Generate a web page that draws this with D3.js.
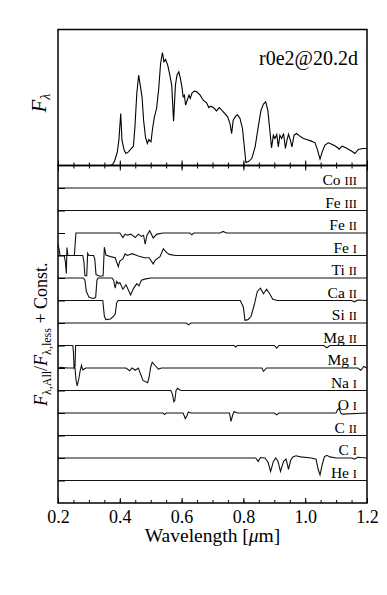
<!DOCTYPE html>
<html>
<head>
<meta charset="utf-8">
<script src="https://cdn.jsdelivr.net/npm/d3@7"></script>
<style>
  body { margin: 0; background: #fff; }
</style>
</head>
<body>
<svg id="chart" width="387" height="595"></svg>
<script>
// top panel: model spectrum (wavelength in micron, flux in arbitrary units)
const specWave = [0.2, 0.368, 0.377, 0.384, 0.392, 0.397, 0.403, 0.407, 0.414, 0.420, 0.428, 0.435, 0.444, 0.449,
    0.455, 0.461, 0.467, 0.472, 0.477, 0.483, 0.489, 0.494, 0.501, 0.506, 0.512, 0.519, 0.526, 0.532, 0.538,
    0.543, 0.548, 0.555, 0.561, 0.568, 0.574, 0.580, 0.585, 0.591, 0.596, 0.601, 0.605, 0.609, 0.613, 0.619,
    0.624, 0.628, 0.634, 0.641, 0.649, 0.660, 0.670, 0.681, 0.688, 0.694, 0.703, 0.713, 0.722, 0.730, 0.740,
    0.749, 0.757, 0.762, 0.767, 0.775, 0.781, 0.789, 0.797, 0.803, 0.808, 0.816, 0.827, 0.838, 0.848, 0.857,
    0.865, 0.872, 0.879, 0.885, 0.891, 0.897, 0.902, 0.908, 0.913, 0.918, 0.924, 0.930, 0.936, 0.941, 0.946,
    0.952, 0.957, 0.964, 0.972, 0.983, 0.994, 1.005, 1.018, 1.032, 1.040, 1.048, 1.055, 1.064, 1.075, 1.086,
    1.096, 1.104, 1.110, 1.119, 1.130, 1.141, 1.151, 1.161, 1.172, 1.186, 1.2];
const specFlux = [0, 0, 0.007, 0.039, 0.10, 0.186, 0.382, 0.186, 0.113, 0.088, 0.10, 0.118, 0.142, 0.284,
    0.529, 0.664, 0.578, 0.505, 0.333, 0.211, 0.162, 0.191, 0.174, 0.272, 0.358, 0.419, 0.566, 0.75, 0.831,
    0.762, 0.779, 0.738, 0.676, 0.591, 0.326, 0.591, 0.664, 0.689, 0.64, 0.578, 0.505, 0.517, 0.444, 0.485,
    0.517, 0.493, 0.534, 0.547, 0.542, 0.517, 0.48, 0.461, 0.426, 0.436, 0.426, 0.402, 0.426, 0.407, 0.382,
    0.358, 0.304, 0.235, 0.333, 0.363, 0.373, 0.346, 0.272, 0.137, 0.022, 0.029, 0.051, 0.137, 0.284, 0.407,
    0.451, 0.468, 0.407, 0.272, 0.13, 0.223, 0.199, 0.228, 0.137, 0.223, 0.199, 0.235, 0.125, 0.186, 0.23,
    0.186, 0.137, 0.223, 0.235, 0.216, 0.199, 0.191, 0.181, 0.167, 0.113, 0.047, 0.10, 0.15, 0.167, 0.157,
    0.145, 0.132, 0.12, 0.142, 0.132, 0.118, 0.105, 0.088, 0.118, 0.125, 0.125];

// bottom panel: species, top to bottom
const elements = ["Co", "Fe", "Fe", "Fe", "Ti", "Ca", "Si", "Mg", "Mg", "Na", "O", "C", "C", "He"];
const ions = ["III", "III", "II", "I", "II", "II", "II", "II", "I", "I", "I", "II", "I", "I"];

// ratio profiles: [wavelength, ratio - 1] (in units of the offset between curves)
const flat = [[0.2, 0], [1.2, 0]];
const feII = [[0.2, -1.0], [0.253, -1.0], [0.258, 0], [0.40, 0], [0.41, -0.2], [0.417, -0.05], [0.425, -0.1],
    [0.435, -0.05], [0.45, -0.2], [0.46, -0.05], [0.47, -0.15], [0.477, -0.1], [0.482, -0.5], [0.488, -0.1],
    [0.497, 0.1], [0.508, -0.22], [0.52, -0.05], [0.54, 0], [0.60, 0], [0.627, 0], [0.633, -0.08], [0.64, 0],
    [0.725, 0], [0.734, 0.07], [0.745, 0], [1.2, 0]];
const feI = [[0.2, 0.5], [0.203, 0.3], [0.207, 0], [0.22, 0], [0.224, -0.3], [0.227, -0.8], [0.229, 0.35],
    [0.232, 0], [0.28, 0], [0.284, -0.3], [0.287, -0.9], [0.293, -0.9], [0.296, 0.1], [0.30, 0], [0.315, 0],
    [0.319, -0.15], [0.323, -0.85], [0.335, -0.92], [0.346, -0.9], [0.35, 0.37], [0.355, 0.02], [0.37, -0.05],
    [0.385, -0.1], [0.395, -0.5], [0.40, -0.25], [0.41, -0.15], [0.417, 0.07], [0.425, 0], [0.44, 0.08],
    [0.46, -0.02], [0.48, -0.1], [0.495, -0.1], [0.508, -0.37], [0.515, -0.2], [0.53, -0.05], [0.541, 0.3],
    [0.55, 0.15], [0.56, 0.05], [0.58, 0], [1.2, 0]];
const tiII = [[0.2, 0], [0.282, 0], [0.287, -0.1], [0.292, -0.6], [0.30, -0.85], [0.31, -0.9], [0.318, -0.9],
    [0.322, -0.85], [0.326, -0.1], [0.33, 0], [0.375, 0], [0.38, -0.1], [0.385, -0.45], [0.39, -0.15],
    [0.395, -0.25], [0.40, -0.2], [0.41, -0.5], [0.42, -0.3], [0.435, -0.75], [0.445, -0.45], [0.455, -0.25],
    [0.462, -0.35], [0.47, -0.1], [0.48, -0.05], [0.5, 0], [1.2, 0]];
const caII = [[0.2, 0], [0.345, 0], [0.35, -0.7], [0.355, -0.85], [0.37, -0.82], [0.38, -0.7], [0.385, -0.6],
    [0.39, -0.1], [0.395, 0], [0.79, 0], [0.80, -0.3], [0.805, -0.88], [0.815, -0.85], [0.825, -0.7],
    [0.835, -0.2], [0.845, 0.4], [0.855, 0.55], [0.865, 0.3], [0.875, 0.5], [0.885, 0.3], [0.895, 0.05],
    [0.91, 0], [1.15, 0], [1.16, -0.06], [1.17, 0.02], [1.2, 0]];
const siII = [[0.2, 0], [0.615, 0], [0.622, -0.08], [0.63, 0], [1.2, 0]];
const mgII = [[0.2, 0], [0.248, 0], [0.25, -0.3], [0.252, -1.0], [0.255, -0.95], [0.257, 0], [0.77, 0],
    [0.775, -0.07], [0.78, 0], [0.90, 0], [0.908, -0.12], [0.915, 0], [1.06, 0], [1.07, -0.1], [1.08, 0], [1.2, 0]];
const mgI = [[0.2, 0], [0.21, 0.03], [0.23, 0], [0.255, 0], [0.258, -0.5], [0.262, -0.8], [0.267, -0.5],
    [0.272, -0.1], [0.276, 0.12], [0.28, -0.08], [0.29, 0], [0.42, 0], [0.432, -0.12], [0.44, 0], [0.45, -0.1],
    [0.46, 0], [0.475, -0.55], [0.49, -0.65], [0.495, -0.4], [0.50, 0.05], [0.505, 0.25], [0.515, 0.1],
    [0.525, -0.05], [0.535, 0], [0.86, 0], [0.865, -0.15], [0.875, 0], [1.17, 0], [1.18, -0.1], [1.19, 0.07], [1.2, 0]];
const naI = [[0.2, 0], [0.565, 0], [0.57, -0.15], [0.575, -0.5], [0.578, -0.45], [0.582, 0], [0.587, 0.1],
    [0.595, 0.02], [0.6, 0], [1.2, 0]];
const oI = [[0.2, 0], [0.54, 0], [0.545, -0.07], [0.55, 0], [0.605, 0], [0.612, -0.25], [0.618, -0.1],
    [0.622, 0.05], [0.63, 0], [0.755, 0], [0.76, -0.37], [0.765, -0.1], [0.77, 0.07], [0.78, 0], [0.9, 0],
    [0.908, -0.08], [0.915, 0], [1.10, 0], [1.105, 0.15], [1.11, 0.2], [1.115, 0], [1.12, -0.05], [1.2, 0]];
const cI = [[0.2, 0], [0.84, 0], [0.848, -0.15], [0.855, 0.02], [0.87, 0], [0.88, -0.2], [0.888, -0.6],
    [0.897, -0.15], [0.905, 0], [0.912, -0.15], [0.92, -0.6], [0.93, -0.15], [0.938, -0.05], [0.946, -0.5],
    [0.953, -0.1], [0.96, 0.05], [0.97, 0.1], [0.985, 0.05], [1.02, 0], [1.035, -0.05], [1.042, -0.5],
    [1.048, -0.75], [1.055, -0.3], [1.062, 0.05], [1.07, 0.12], [1.08, 0.05], [1.1, 0], [1.15, 0],
    [1.16, -0.05], [1.17, 0.03], [1.2, 0]];
const profiles = [flat, flat, feII, feI, tiII, caII, siII, mgII, mgI, naI, oI, flat, cI, flat];

const majorTicks = [0.2, 0.4, 0.6, 0.8, 1.0, 1.2];
const minorTicks = d3.range(0.2, 1.2001, 0.05);

const serif = "'Liberation Serif'";
const svg = d3.select("#chart").style("font-family", serif);
const left = 58, right = 367;
const topY0 = 29.5, topY1 = 165.5, botY1 = 503;

let x = d3.scaleLinear().domain([0.2, 1.2]).range([left, right]);
let yTop = d3.scaleLinear().domain([0, 1]).range([topY1, topY0]);
let yBot = d3.scaleLinear().domain([0, 15]).range([botY1, topY1]);

// spectrum
let line = d3.line().x((d) => x(d[0])).y((d) => yTop(d[1]));
svg.append("path")
    .datum(specWave.map((w, i) => [w, specFlux[i]]))
    .attr("d", line)
    .attr("fill", "none")
    .attr("stroke", "#000")
    .attr("stroke-width", 1.1);

// ratio curves
profiles.forEach((p, k) => {
    let off = 14 - k;
    let ln = d3.line().x((d) => x(d[0])).y((d) => yBot(off + d[1]));
    svg.append("path")
        .datum(p)
        .attr("d", ln)
        .attr("fill", "none")
        .attr("stroke", "#111")
        .attr("stroke-width", 1.1);

    let t = svg.append("text")
        .attr("x", 357)
        .attr("y", yBot(off) - 3)
        .attr("text-anchor", "end")
        .style("font-family", serif);
    t.append("tspan").attr("font-size", 15.5).text(elements[k] + " ");
    t.append("tspan").attr("font-size", 12.5).text(ions[k]);
});

// axes
function ticks(g, axis) {
    g.call(axis);
    g.attr("font-family", null).style("font-family", serif);
    g.select(".domain").remove();
    g.selectAll(".tick line").attr("stroke", "#000").attr("stroke-width", 1);
}

// top panel bottom edge (ticks up)
svg.append("g").attr("transform", `translate(0,${topY1})`)
    .call(ticks, d3.axisBottom(x).tickValues(minorTicks).tickSize(-3).tickFormat(""));
svg.append("g").attr("transform", `translate(0,${topY1})`)
    .call(ticks, d3.axisBottom(x).tickValues(majorTicks).tickSize(-5).tickFormat(""));

// bottom panel top edge (ticks down)
svg.append("g").attr("transform", `translate(0,${topY1})`)
    .call(ticks, d3.axisTop(x).tickValues(minorTicks).tickSize(-3).tickFormat(""));
svg.append("g").attr("transform", `translate(0,${topY1})`)
    .call(ticks, d3.axisTop(x).tickValues(majorTicks).tickSize(-5).tickFormat(""));

// bottom axis
svg.append("g").attr("transform", `translate(0,${botY1})`)
    .call(ticks, d3.axisBottom(x).tickValues(minorTicks).tickSize(-3).tickFormat(""));
let xAxis = svg.append("g").attr("transform", `translate(0,${botY1})`)
    .call(ticks, d3.axisBottom(x).tickValues(majorTicks).tickSize(-5).tickPadding(7).tickFormat(d3.format(".1f")));
xAxis.selectAll("text")
    .attr("font-size", 18)
    .style("font-family", serif)
    .attr("fill", "#000");

// left ticks on bottom panel
svg.append("g").attr("transform", `translate(${left},0)`)
    .call(ticks, d3.axisLeft(yBot).tickValues(d3.range(1, 15)).tickSize(-7).tickFormat(""));

// frames
svg.append("rect")
    .attr("x", left).attr("y", topY0)
    .attr("width", right - left).attr("height", topY1 - topY0)
    .attr("fill", "none").attr("stroke", "#000").attr("stroke-width", 1.5);
svg.append("rect")
    .attr("x", left).attr("y", topY1)
    .attr("width", right - left).attr("height", botY1 - topY1)
    .attr("fill", "none").attr("stroke", "#000").attr("stroke-width", 1.5);

// labels
svg.append("text")
    .attr("x", 358).attr("y", 65)
    .attr("text-anchor", "end")
    .attr("font-size", 20)
    .style("font-family", serif)
    .text("r0e2@20.2d");

let xl = svg.append("text")
    .attr("x", (left + right) / 2).attr("y", 542)
    .attr("text-anchor", "middle")
    .attr("font-size", 19.5)
    .style("font-family", serif);
xl.append("tspan").text("Wavelength [");
xl.append("tspan").attr("font-style", "italic").text("μ");
xl.append("tspan").text("m]");

let fl = svg.append("text")
    .attr("transform", "translate(46,103) rotate(-90)")
    .attr("text-anchor", "middle")
    .attr("font-size", 21)
    .style("font-family", serif);
fl.append("tspan").attr("font-style", "italic").text("F");
fl.append("tspan").attr("font-size", 14).attr("dy", 4).attr("font-style", "italic").text("λ");

let yl = svg.append("text")
    .attr("transform", `translate(47,${(topY1 + botY1) / 2}) rotate(-90)`)
    .attr("text-anchor", "middle")
    .attr("font-size", 18)
    .style("font-family", serif);
yl.append("tspan").attr("font-style", "italic").text("F");
yl.append("tspan").attr("font-size", 12).attr("dy", 4).text("λ,All");
yl.append("tspan").attr("dy", -4).text("/");
yl.append("tspan").attr("font-style", "italic").text("F");
yl.append("tspan").attr("font-size", 12).attr("dy", 4).text("λ,less");
yl.append("tspan").attr("dy", -4).text(" + Const.");
</script>
</body>
</html>
